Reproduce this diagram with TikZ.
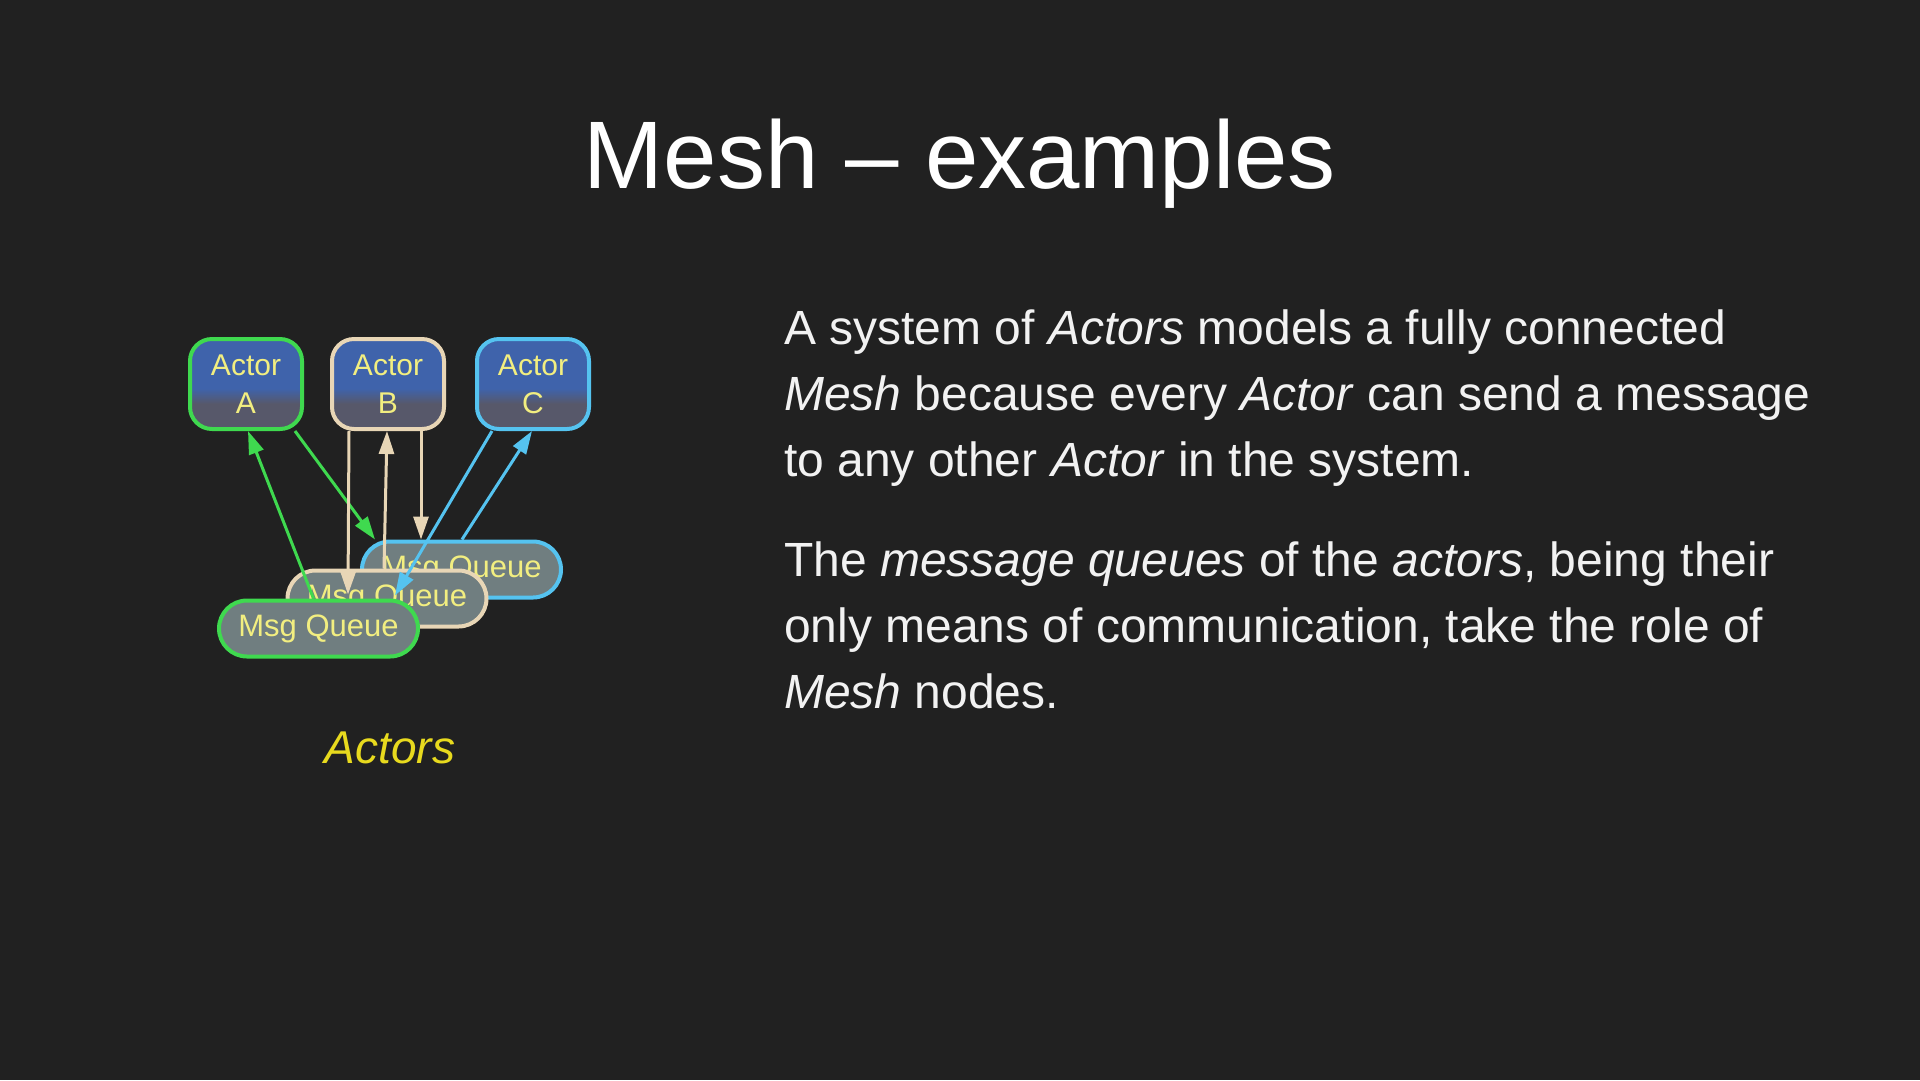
\documentclass[tikz,border=0pt]{standalone}
\usepackage{fontspec}
\setmainfont{Liberation Sans}
\usetikzlibrary{arrows.meta}
\definecolor{bg}{HTML}{212121}
\definecolor{bodytxt}{HTML}{F2F2F2}
\definecolor{txtyellow}{HTML}{F2EE80}
\definecolor{capyellow}{HTML}{E8DA1E}
\definecolor{actblue}{HTML}{3F63AB}
\definecolor{actgray}{HTML}{57586A}
\definecolor{mqfill}{HTML}{707E80}
\definecolor{cgreen}{HTML}{3FD94F}
\definecolor{ctan}{HTML}{E8D6B6}
\definecolor{cblue}{HTML}{55C3F0}
\pgfdeclareverticalshading{actorshade}{100bp}{color(0bp)=(actgray); color(39bp)=(actgray); color(47.5bp)=(actblue); color(100bp)=(actblue)}
\begin{document}
\begin{tikzpicture}[x=1pt,y=-1pt,
  actor/.style={draw, line width=4pt, rounded corners=22pt, minimum width=112pt, minimum height=90pt,
    inner sep=0pt, text=txtyellow, align=center, font=\fontsize{30}{38}\selectfont,
    shading=actorshade},
  mq/.style={draw, line width=4pt, rounded corners=28pt, minimum width=199pt, minimum height=56pt,
    inner sep=0pt, fill=mqfill, text=txtyellow, font=\fontsize{31}{37}\selectfont},
  conn/.style={line width=3pt, -{Triangle[length=23pt,width=15pt]}},
  body/.style={anchor=base west, inner sep=0pt, text=bodytxt, font=\fontsize{48}{66}\selectfont}
]
\fill[bg] (0,0) rectangle (1920,1080);
\useasboundingbox (0,0) rectangle (1920,1080);

\node[anchor=base, inner sep=0pt, text=white, font=\fontsize{96}{110}\selectfont] (title) at (960,188) {Mesh -- examples};

\node[actor, draw=cgreen] (actA) at (246,384) {Actor\\A};
\node[actor, draw=ctan] (actB) at (388,384) {Actor\\B};
\node[actor, draw=cblue] (actC) at (533,384) {Actor\\C};

\node[mq, draw=cblue] (mqC) at (461.5,569.5) {Msg Queue};
\node[mq, draw=ctan] (mqB) at (387,598.5) {Msg Queue};
\node[mq, draw=cgreen] (mqA) at (318.5,628.5) {Msg Queue};

\draw[conn, cgreen] ([xshift=-5pt]mqA.north) -- ([xshift=2pt]actA.south);
\draw[conn, cgreen] ([xshift=49pt]actA.south) -- ([xshift=-86.5pt]mqC.north);
\draw[conn, ctan] ([xshift=-39pt]actB.south) -- ([xshift=29.5pt,yshift=4pt]mqA.north);
\draw[conn, ctan] ([xshift=-3pt]mqB.north) -- ([xshift=-1pt]actB.south);
\draw[conn, ctan] ([xshift=33pt]actB.south) -- ([xshift=-40.5pt]mqC.north);
\draw[conn, cblue] ([xshift=-41pt]actC.south) -- ([xshift=76.5pt,yshift=3pt]mqA.north);
\draw[conn, cblue] ([xshift=0.5pt]mqC.north) -- ([xshift=-1pt]actC.south);

\node[anchor=base, inner sep=0pt, text=capyellow, font=\fontsize{46}{55}\selectfont\itshape] (cap) at (390,763) {Actors};

\node[body] (p1a) at (784,344) {A system of \textit{Actors} models a fully connected};
\node[body] (p1b) at (784,410) {\textit{Mesh} because every \textit{Actor} can send a message};
\node[body] (p1c) at (784,476) {to any other \textit{Actor} in the system.};
\node[body] (p2a) at (784,576) {The \textit{message queues} of the \textit{actors}, being their};
\node[body] (p2b) at (784,642) {only means of communication, take the role of};
\node[body] (p2c) at (784,708) {\textit{Mesh} nodes.};
\end{tikzpicture}
\end{document}
